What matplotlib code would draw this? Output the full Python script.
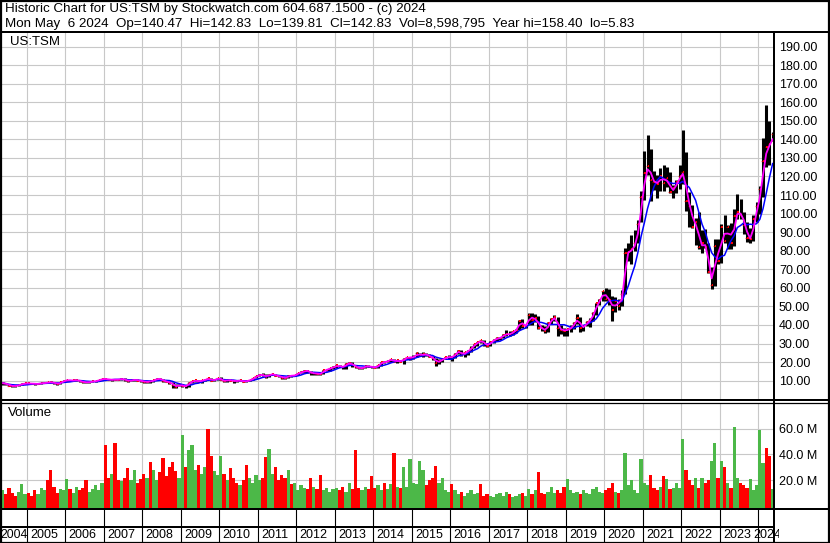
import matplotlib
matplotlib.use('Agg')
import matplotlib.pyplot as plt
import numpy as np
import pandas as pd
from matplotlib.lines import Line2D
from matplotlib.patches import Rectangle
from matplotlib.ticker import FuncFormatter

plt.rcParams['font.family'] = ['Liberation Sans', 'DejaVu Sans']

# ---------------- data (monthly, May 2004 - May 2024) ----------------
months = pd.period_range('2004-05', '2024-05', freq='M')

close = [
    8.6, 8.2, 7.3, 7.1, 7.1, 7.8, 8.2, 8.5,                                   # 2004
    8.5, 8.3, 8.2, 8.3, 8.6, 8.8, 9.0, 9.2, 8.6, 8.2, 9.1, 9.9,               # 2005
    10.4, 10.0, 10.1, 10.3, 9.6, 9.2, 9.0, 9.3, 9.6, 9.7, 10.5, 10.9,         # 2006
    10.9, 10.5, 10.5, 10.6, 10.5, 11.1, 10.3, 9.8, 10.1, 10.6, 10.0, 9.9,     # 2007
    9.3, 9.4, 9.6, 10.3, 11.0, 10.9, 9.7, 9.4, 8.9, 7.6, 6.6, 7.9,            # 2008
    7.0, 6.9, 8.9, 9.6, 10.1, 9.4, 10.2, 10.5, 11.2, 10.0, 10.6, 11.4,        # 2009
    10.4, 9.6, 10.5, 10.0, 9.8, 9.8, 10.2, 9.3, 10.0, 10.3, 11.3, 12.5,       # 2010
    13.3, 12.8, 12.2, 13.3, 13.5, 12.6, 12.4, 11.6, 11.4, 12.7, 12.6, 12.9,   # 2011
    14.2, 14.4, 15.3, 15.2, 13.9, 14.0, 13.7, 13.6, 15.8, 15.9, 16.8, 17.2,   # 2012
    18.2, 17.6, 17.2, 19.1, 19.5, 18.3, 17.3, 16.6, 16.9, 17.9, 17.6, 17.4,   # 2013
    16.9, 18.4, 20.0, 19.9, 20.8, 21.4, 20.2, 20.9, 20.2, 21.8, 22.6, 22.4,   # 2014
    22.8, 24.7, 23.5, 24.3, 23.9, 22.8, 22.1, 19.6, 20.7, 21.4, 22.6, 22.7,   # 2015
    22.6, 24.6, 26.2, 23.6, 25.2, 26.2, 27.8, 29.8, 30.6, 31.7, 29.7, 28.8,   # 2016
    30.9, 32.0, 32.8, 33.1, 34.8, 35.0, 35.0, 36.5, 37.5, 42.4, 39.4, 39.6,   # 2017
    45.3, 42.6, 43.8, 38.5, 38.2, 36.6, 41.2, 43.0, 44.2, 38.1, 37.4, 36.9,   # 2018
    37.6, 38.5, 41.0, 43.7, 38.4, 39.2, 41.4, 42.9, 46.5, 51.6, 53.5, 58.1,   # 2019
    54.0, 53.6, 47.8, 53.1, 50.4, 56.8, 78.9, 79.2, 81.1, 83.9, 94.3, 109.0,  # 2020
    121.9, 125.9, 118.3, 116.8, 116.1, 120.2, 116.7, 119.0, 111.6, 113.7, 117.0, 120.3,  # 2021
    122.6, 107.0, 104.3, 92.9, 95.6, 81.8, 84.0, 82.0, 68.6, 61.6, 82.3, 74.5,           # 2022
    92.7, 85.5, 93.0, 84.3, 98.6, 100.9, 99.2, 93.9, 86.9, 86.3, 97.2, 104.0,            # 2023
    113.0, 128.6, 136.0, 137.3, 142.8,                                                   # 2024
]

high = [
    9.4, 8.9, 8.4, 7.6, 7.7, 8.1, 8.6, 8.9,
    8.9, 8.8, 8.6, 8.8, 8.9, 9.2, 9.4, 9.6, 9.3, 8.8, 9.3, 10.1,
    10.6, 10.5, 10.3, 10.7, 10.4, 9.7, 9.3, 9.6, 9.8, 10.0, 10.6, 11.1,
    11.2, 11.0, 10.8, 10.9, 10.8, 11.4, 11.3, 10.4, 10.3, 11.0, 10.8, 10.2,
    10.0, 9.8, 9.9, 10.6, 11.5, 11.6, 11.0, 9.9, 9.6, 9.2, 8.1, 8.2,
    8.3, 7.4, 9.0, 9.9, 10.3, 10.6, 10.4, 10.8, 11.5, 11.3, 10.8, 11.5,
    11.8, 10.5, 10.6, 10.9, 10.5, 10.2, 10.4, 10.2, 10.1, 10.6, 11.5, 12.6,
    13.8, 13.9, 13.4, 13.4, 13.8, 13.6, 12.8, 12.5, 12.2, 12.8, 13.0, 13.0,
    14.3, 15.0, 15.6, 15.8, 15.2, 14.2, 14.6, 14.1, 16.0, 16.4, 17.0, 17.7,
    18.5, 18.5, 17.7, 19.3, 20.3, 19.8, 18.4, 17.4, 17.4, 18.0, 18.3, 18.0,
    17.5, 18.6, 20.3, 20.5, 21.0, 21.6, 21.8, 21.0, 21.2, 22.0, 22.9, 22.7,
    23.6, 25.3, 25.0, 25.4, 25.0, 24.2, 23.5, 22.3, 21.4, 22.0, 23.0, 23.6,
    23.4, 24.8, 26.6, 26.6, 25.5, 26.7, 28.4, 30.0, 30.9, 32.0, 31.9, 29.8,
    31.3, 32.3, 33.4, 33.6, 35.0, 37.1, 36.5, 37.0, 38.0, 42.5, 43.0, 40.1,
    46.7, 46.6, 45.9, 44.6, 39.8, 39.7, 41.7, 43.9, 45.5, 44.5, 39.9, 38.5,
    38.0, 40.0, 41.8, 45.7, 44.2, 39.4, 42.4, 43.6, 47.1, 52.0, 54.0, 58.5,
    59.9, 59.5, 55.6, 55.0, 54.0, 58.6, 81.5, 84.0, 88.7, 91.3, 96.8, 112.0,
    133.7, 142.2, 135.0, 123.0, 121.0, 124.5, 126.0, 125.0, 122.5, 115.6, 118.0, 126.4,
    145.0, 133.0, 111.5, 104.8, 97.5, 101.0, 91.0, 91.5, 84.3, 71.4, 86.5, 86.2,
    94.5, 99.5, 93.8, 94.7, 102.5, 110.7, 108.0, 100.9, 95.3, 92.0, 99.0, 106.0,
    115.0, 141.0, 158.4, 150.0, 144.0,
]

low = [
    7.9, 7.6, 6.9, 6.8, 6.8, 7.0, 7.7, 8.0,
    8.1, 8.0, 7.9, 8.0, 8.2, 8.5, 8.7, 8.8, 8.4, 7.9, 8.2, 9.0,
    9.8, 9.8, 9.8, 10.0, 9.3, 8.6, 8.6, 8.9, 9.2, 9.4, 9.7, 10.4,
    10.5, 10.1, 10.0, 10.4, 10.3, 10.4, 10.0, 9.2, 9.6, 10.0, 9.8, 9.2,
    8.6, 8.8, 8.9, 9.5, 10.2, 10.5, 9.3, 9.0, 8.0, 6.3, 5.83, 6.9,
    6.6, 6.2, 6.5, 8.6, 9.4, 9.1, 8.9, 9.9, 10.3, 9.8, 9.8, 10.5,
    10.1, 9.2, 9.5, 9.9, 8.8, 9.5, 9.6, 9.0, 9.2, 9.9, 10.2, 11.2,
    12.5, 12.5, 11.6, 12.2, 12.9, 12.4, 12.0, 10.9, 11.0, 11.2, 11.9, 12.3,
    12.9, 14.0, 14.2, 14.3, 13.3, 12.8, 13.2, 13.3, 13.6, 15.2, 15.3, 16.3,
    17.0, 17.2, 16.4, 16.5, 19.0, 17.4, 16.8, 16.2, 16.4, 16.8, 17.3, 16.7,
    16.6, 16.8, 18.0, 19.5, 19.8, 20.2, 19.8, 19.6, 20.0, 18.9, 21.5, 21.0,
    21.5, 22.6, 23.2, 23.0, 23.3, 22.6, 21.2, 17.9, 19.2, 19.8, 21.5, 21.4,
    20.5, 22.0, 24.5, 23.3, 22.9, 24.0, 25.4, 27.8, 28.4, 30.3, 28.5, 28.0,
    28.6, 30.1, 31.5, 32.1, 32.8, 34.0, 34.3, 34.8, 35.7, 37.3, 38.1, 38.5,
    39.9, 40.0, 41.5, 37.9, 36.8, 35.9, 36.3, 40.5, 42.1, 34.1, 35.2, 34.2,
    34.1, 36.4, 37.9, 40.6, 36.2, 36.7, 39.2, 39.1, 42.4, 45.2, 50.5, 53.1,
    53.0, 50.6, 42.0, 46.8, 48.3, 50.3, 56.8, 74.5, 72.7, 80.0, 84.0, 95.5,
    107.1, 121.0, 107.0, 112.5, 108.5, 112.0, 112.0, 114.3, 111.3, 108.4, 111.2, 113.5,
    116.0, 101.5, 93.0, 92.0, 83.0, 81.0, 79.0, 81.5, 68.0, 59.4, 61.0, 72.8,
    73.5, 84.4, 80.8, 81.0, 82.7, 97.0, 97.0, 89.0, 84.5, 84.0, 85.5, 95.5,
    100.0, 109.0, 125.0, 126.0, 139.0,
]

# volume in millions of shares
volume_m = [
    12, 9, 14, 10, 8, 11, 17, 9,
    10, 8, 12, 9, 14, 12, 20, 28, 15, 10, 13, 12,
    21, 13, 10, 15, 12, 14, 20, 11, 13, 16, 12, 18,
    47, 22, 25, 49, 20, 19, 22, 29, 20, 28, 18, 21,
    25, 22, 34, 28, 20, 26, 37, 23, 30, 34, 27, 22,
    55, 30, 43, 47, 28, 32, 25, 30, 60, 39, 27, 24,
    39, 25, 20, 29, 22, 18, 16, 20, 32, 22, 18, 24,
    20, 22, 38, 44, 25, 30, 20, 24, 22, 28, 17, 18,
    12, 16, 14, 13, 22, 15, 13, 24, 12, 14, 11, 13,
    14, 12, 15, 11, 18, 13, 43, 14, 12, 15, 13, 23,
    14, 16, 12, 18, 13, 17, 41, 15, 14, 30, 15, 36,
    18, 17, 35, 28, 16, 20, 22, 31, 18, 22, 12, 11,
    17, 12, 9, 11, 8, 10, 12, 9, 10, 17, 8, 9,
    8, 7, 9, 10, 8, 11, 9, 7, 8, 9, 10, 8,
    13, 9, 12, 26, 10, 9, 11, 15, 10, 12, 10, 15,
    21, 12, 10, 11, 9, 12, 10, 9, 13, 15, 11, 10,
    12, 14, 18, 11, 10, 12, 41, 16, 20, 12, 10, 36,
    18, 16, 24, 14, 12, 15, 23, 21, 13, 14, 18, 14,
    52, 28, 20, 16, 22, 14, 22, 18, 20, 35, 49, 22,
    35, 30, 18, 14, 61, 22, 18, 16, 14, 21, 12, 16,
    59, 33, 45, 39, 13,
]

# g = up period, r = down period
vol_dir = ("grrrrggg" "rrrgggrrrrgg" "grggrrrggggg" "rrgrrgrrggrr" "rgrggrrrrrrg"
           "grgggrggrrgg" "grgrrrgrrggg" "grrggrrrrgrg" "gggrrgrrgggg" "grrggrrrggrr"
           "rggrggrgrggg" "ggggrrrrgggg" "rggrgggggrrr" "ggggggrgggrg" "grgrrrgggrrr"
           "ggggrggggggg" "rrrgrggggggg" "ggrrrgrgrggg" "grrrgrgrrggr" "grgrggrrrggg"
           "ggrrg")

price_ticks = list(range(10, 200, 10))
volume_ticks = [20, 40, 60]
year_labels = list(range(2004, 2025))

header1 = "Historic Chart for US:TSM by Stockwatch.com 604.687.1500 - (c) 2024"
header2 = ("Mon May  6 2024  Op=140.47  Hi=142.83  Lo=139.81  Cl=142.83  "
           "Vol=8,598,795  Year hi=158.40  lo=5.83")
symbol = "US:TSM"

# ---------------- layout helpers (pixels) ----------------
W, H = 830, 543
fig = plt.figure(figsize=(W / 100, H / 100), dpi=100, facecolor='white')


def rect(x0, y0, x1, y1):
    return [x0 / W, 1 - y1 / H, (x1 - x0) / W, (y1 - y0) / H]


def yr(px):  # pixel x -> decimal year
    return 2005 + (px - 26.7) / 38.5


def hline(y, x0=0, x1=W, lw=1.44, color='black'):
    fig.add_artist(Line2D([x0 / W, x1 / W], [1 - y / H, 1 - y / H],
                          transform=fig.transFigure, color=color, lw=lw,
                          solid_capstyle='butt'))


def vline(x, y0, y1, lw=1.44, color='black'):
    fig.add_artist(Line2D([x / W, x / W], [1 - y0 / H, 1 - y1 / H],
                          transform=fig.transFigure, color=color, lw=lw,
                          solid_capstyle='butt'))


xm = np.array([p.year + (p.month - 0.5) / 12 for p in months])
close_s = pd.Series(close)
ma_short = close_s.rolling(2, min_periods=1).mean()
ma_long = close_s.rolling(6, min_periods=1).mean()

GRID = '#c8c8c8'
GREEN = '#4cb848'
RED = '#ff0000'
FS = 9

# ---------------- price panel ----------------
ax = fig.add_axes(rect(2, 33, 774, 399.5))
ax.set_xlim(yr(2), yr(774))
ax.set_ylim((399.2 - 399.5) / 1.856, (399.2 - 33) / 1.856)
ax.set_yticks(price_ticks)
ax.set_xticks(range(2005, 2025))
ax.yaxis.tick_right()
ax.tick_params(axis='y', length=0, pad=3.6, labelsize=FS)
ax.tick_params(axis='x', length=0, labelbottom=False)
ax.yaxis.set_major_formatter(FuncFormatter(lambda v, p: f"{v:.2f}"))
ax.grid(True, color=GRID, lw=0.8)
ax.set_axisbelow(True)
for s in ax.spines.values():
    s.set_visible(False)

ax.vlines(xm, low, high, colors='black', lw=2.2, zorder=2)
ax.hlines(close, xm, xm + 1 / 24, colors=RED, lw=1.4, zorder=3)
ax.hlines(close, xm - 1 / 24, xm, colors=RED, lw=0.9, zorder=3, alpha=0.6)
ax.plot(xm, ma_long, color='#0000ff', lw=1.1, zorder=4)
ax.plot(xm, ma_short, color='#ff00ff', lw=1.3, zorder=5)

fig.text(10 / W, 1 - 42 / H, symbol, fontsize=FS + 0.5, va='center', ha='left')

# ---------------- volume panel ----------------
axv = fig.add_axes(rect(2, 403.5, 774, 507.5))
axv.set_xlim(yr(2), yr(774))
axv.set_yticks(volume_ticks)
axv.set_xticks(range(2005, 2025))
axv.yaxis.tick_right()
axv.tick_params(axis='y', length=0, pad=3.6, labelsize=FS)
axv.tick_params(axis='x', length=0, labelbottom=False)
axv.yaxis.set_major_formatter(FuncFormatter(lambda v, p: f"{v:.1f} M"))
axv.grid(True, color=GRID, lw=0.8)
axv.set_axisbelow(True)
for s in axv.spines.values():
    s.set_visible(False)
vol_colors = [GREEN if d == 'g' else RED for d in vol_dir]
vbot = (505.9 - 507.5) / 1.29
axv.bar(xm, np.array(volume_m) - vbot, width=1 / 12, bottom=vbot,
        color=vol_colors, linewidth=0, align='center', zorder=2)
axv.set_ylim(vbot, (505.9 - 403.5) / 1.29)

fig.text(8 / W, 1 - 413 / H, "Volume", fontsize=FS + 0.5, va='center', ha='left')

# ---------------- year strip ----------------
axy = fig.add_axes(rect(2, 509.5, 779, 542))
axy.set_xlim(yr(2), yr(779))
axy.set_ylim(542, 509.5)
axy.axis('off')
for y in year_labels[1:]:
    axy.plot([y, y], [509.5, 542], color='black', lw=0.8)
for y in year_labels:
    if y == year_labels[0]:
        fig.text(0.8 / W, 1 - 535 / H, str(y), ha='left', va='center', fontsize=FS - 0.3)
    elif y == year_labels[-1]:
        axy.text(y - 4.5 / 38.5, 535, str(y), ha='left', va='center',
                 fontsize=FS, clip_on=True)
    else:
        axy.text(y + 3.3 / 38.5, 535, str(y), ha='left', va='center',
                 fontsize=FS, clip_on=True)

# ---------------- header and frame lines ----------------
fig.text(5 / W, 1 - 9 / H, header1, fontsize=9.6, va='center', ha='left')
fig.text(5 / W, 1 - 24 / H, header2, fontsize=9.6, va='center', ha='left')

hline(32)
hline(400)
hline(402.7, lw=0.9)
hline(508.5)
hline(527, x1=774)
vline(774, 32, 543)
fig.add_artist(Rectangle((0.5 / W, 0.5 / H), (W - 1.5) / W, (H - 1.5) / H,
                         transform=fig.transFigure, fill=False, lw=1.6,
                         edgecolor='black'))

fig.savefig('out.png', dpi=100, facecolor='white')
